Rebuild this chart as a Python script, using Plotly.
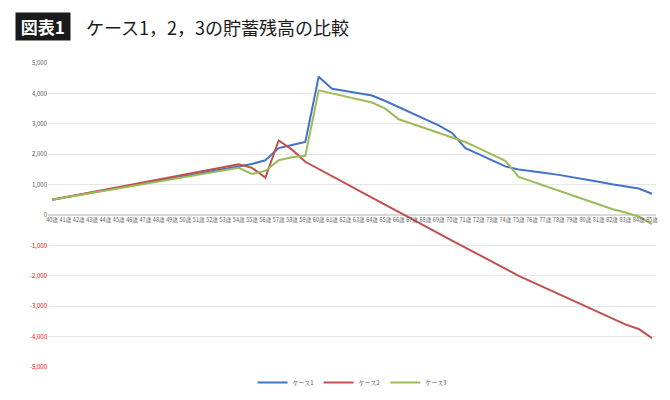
import plotly.graph_objects as go

ages = [f"{a}歳" for a in range(40, 86)]
case1 = [500,580,660,740,820,900,980,1060,1140,1220,1300,1380,1460,1540,1600,1680,1800,2200,2300,2400,
         4550,4150,4080,4000,3930,3750,3550,3350,3150,2950,2700,2200,2000,1800,1600,1500,1450,1380,1320,1250,
         1170,1090,1010,930,870,700]
case2 = [500,585,670,755,840,925,1010,1095,1180,1265,1350,1430,1510,1590,1670,1550,1230,2450,2150,1750,
         1510,1280,1040,800,570,330,100,-140,-370,-600,-840,-1070,-1300,-1540,-1770,-2000,-2200,-2400,-2600,-2800,
         -3000,-3200,-3400,-3600,-3750,-4050]
case3 = [500,575,650,725,800,875,950,1025,1100,1175,1250,1325,1400,1475,1550,
         1350,1450,1800,1900,1950,4100,4000,3900,3800,3700,3500,3150,3000,2850,2700,2550,2400,2200,2000,1780,
         1250,1100,950,800,650,500,350,200,80,-50,-300]
names = ["ケース1", "ケース2", "ケース3"]
colors = ["#4472C4", "#C0504D", "#9BBB59"]
tickvals = list(range(-5000, 5001, 1000))
ticktext = [f"<span style='color:#FF0000'>{v:,}</span>" if v < 0 else f"{v:,}" for v in tickvals]

fig = go.Figure()
for n, d, c in zip(names, [case1, case2, case3], colors):
    fig.add_trace(go.Scatter(x=ages, y=d, name=n, mode="lines", line=dict(color=c, width=2)))

fig.update_layout(
    width=670, height=400, margin=dict(l=40, r=22, t=55, b=40),
    paper_bgcolor="white", plot_bgcolor="white",
    font=dict(family="Noto Sans CJK JP", size=6, color="#595959"),
    showlegend=True,
    legend=dict(orientation="h", x=0.5, xanchor="center", y=0.0, yanchor="top", font=dict(size=6)),
    xaxis=dict(type="category", showgrid=False, tickangle=0, tickfont=dict(size=5.5),
               anchor="free", position=0.5, range=[-0.3, 45.3], showline=False, ticks=""),
    yaxis=dict(range=[-5000, 5000], tickvals=tickvals, ticktext=ticktext, gridcolor="#E6E6E6",
               zeroline=True, zerolinecolor="#D9D9D9", tickfont=dict(size=6)),
)
fig.add_annotation(xref="paper", yref="paper", x=-0.055, y=1.12, xanchor="left", yanchor="middle",
                   text="<b> 図表1 </b>", showarrow=False, bgcolor="#1a1a1a",
                   font=dict(color="white", size=17, family="Noto Sans CJK JP"))
fig.add_annotation(xref="paper", yref="paper", x=0.06, y=1.12, xanchor="left", yanchor="middle",
                   text="ケース1，2，3の貯蓄残高の比較", showarrow=False,
                   font=dict(color="#1a1a1a", size=18, family="Noto Sans CJK JP"))
fig.write_html("out.html")
